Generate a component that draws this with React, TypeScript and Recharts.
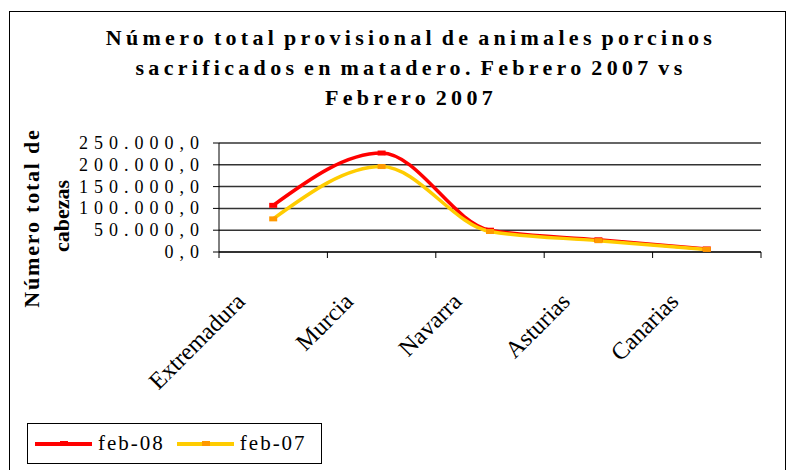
import { LineChart, Line, XAxis, YAxis, CartesianGrid } from 'recharts';

const categories = ['Extremadura', 'Murcia', 'Navarra', 'Asturias', 'Canarias'];
const feb08 = [107000, 227000, 50000, 28000, 7000];
const feb07 = [76000, 196000, 47000, 26000, 6000];
const yTicks = [0, 50000, 100000, 150000, 200000, 250000];
const seriesNames = ['feb-08', 'feb-07'];
const lineColors = ['#ff0000', '#ffcc00'];
const dotColors = ['#ff0000', '#ff9900'];

const data = categories.map((region, i) => ({ region, feb08: feb08[i], feb07: feb07[i] }));

const SERIF = '"Liberation Serif", "Times New Roman", serif';
const PLOT_W = 541;

// 250000 -> "250.000,0"
function fmt(v: number) {
  const s = String(Math.round(v)).replace(/\B(?=(\d{3})+(?!\d))/g, '.');
  return s + ',0';
}

function XTick(props: any) {
  const { x, y, payload, index } = props;
  const band = (props.width || PLOT_W) / categories.length;
  const left = x - band / 2;
  return (
    <g>
      <line x1={left} x2={left} y1={y} y2={y + 6} stroke="#000" />
      {index === categories.length - 1 && (
        <line x1={x + band / 2} x2={x + band / 2} y1={y} y2={y + 6} stroke="#000" />
      )}
      <text
        transform={`translate(${x - 27},${y + 51}) rotate(-45)`}
        textAnchor="end"
        fontFamily={SERIF}
        fontSize={24}
        fill="#000"
      >
        {payload.value}
      </text>
    </g>
  );
}

function YTick(props: any) {
  const { x, y, payload } = props;
  return (
    <text x={x + 6} y={y} dy={6} textAnchor="end" fontFamily={SERIF} fontSize={18} letterSpacing={6} fill="#000">
      {fmt(payload.value)}
    </text>
  );
}

function Marker(color: string) {
  return (props: any) => {
    const { cx, cy } = props;
    if (cx == null || cy == null) return null;
    return <rect x={cx - 4} y={cy - 2.5} width={8} height={5} fill={color} />;
  };
}

function YTitle() {
  return (
    <g fontFamily={SERIF} fontWeight="bold" fontSize={22} fill="#000" textAnchor="middle">
      <text transform="translate(39,218) rotate(-90)" letterSpacing={1.8}>Número total de</text>
      <text transform="translate(69,216) rotate(-90)">cabezas</text>
    </g>
  );
}

export default function App() {
  return (
    <div style={{ position: 'absolute', left: 0, top: 0, width: 794, height: 470, background: '#fff', overflow: 'hidden' }}>
      <div style={{ position: 'absolute', left: 9, top: 11, width: 775, height: 470, border: '1.5px solid #000' }} />
      <div
        style={{
          position: 'absolute',
          left: 14,
          top: 23,
          width: 794,
          textAlign: 'center',
          fontFamily: SERIF,
          fontWeight: 'bold',
          fontSize: 22,
          lineHeight: '30px',
          letterSpacing: 4.3,
          wordSpacing: -4,
          color: '#000',
        }}
      >
        Número total provisional de animales porcinos
        <br />
        sacrificados en matadero. Febrero 2007 vs
        <br />
        Febrero 2007
      </div>
      <div style={{ position: 'absolute', left: 0, top: 0 }}>
        <LineChart width={794} height={470} data={data} margin={{ top: 143, right: 33, bottom: 188, left: 0 }}>
          <CartesianGrid vertical={false} stroke="#333" strokeWidth={1.5} />
          <XAxis
            dataKey="region"
            scale="band"
            height={30}
            axisLine={{ stroke: '#000' }}
            tickLine={false}
            tickSize={0}
            tickMargin={0}
            interval={0}
            tick={<XTick />}
          />
          <YAxis
            width={219}
            domain={[0, 250000]}
            ticks={yTicks}
            interval={0}
            axisLine={{ stroke: '#000' }}
            tickLine={{ stroke: '#000' }}
            tickSize={6}
            tickMargin={14}
            tick={<YTick />}
            label={{ content: <YTitle /> }}
          />
          <Line
            type="monotone"
            dataKey="feb08"
            name={seriesNames[0]}
            stroke={lineColors[0]}
            strokeWidth={3.5}
            dot={Marker(dotColors[0])}
            activeDot={false}
            isAnimationActive={false}
          />
          <Line
            type="monotone"
            dataKey="feb07"
            name={seriesNames[1]}
            stroke={lineColors[1]}
            strokeWidth={3.5}
            dot={Marker(dotColors[1])}
            activeDot={false}
            isAnimationActive={false}
          />
        </LineChart>
      </div>
      <div
        style={{
          position: 'absolute',
          left: 27,
          top: 423,
          width: 295,
          height: 41,
          border: '1px solid #000',
          boxSizing: 'border-box',
          display: 'flex',
          alignItems: 'center',
          fontFamily: SERIF,
          fontSize: 21,
          letterSpacing: 2,
          color: '#000',
        }}
      >
        {seriesNames.map((n, i) => (
          <div key={n} style={{ display: 'flex', alignItems: 'center', marginLeft: i === 0 ? 7 : 12 }}>
            <div style={{ position: 'relative', width: 57, height: 4, background: lineColors[i] }}>
              <div style={{ position: 'absolute', left: 25, top: -0.5, width: 8, height: 5, background: dotColors[i] }} />
            </div>
            <span style={{ marginLeft: 6 }}>{n}</span>
          </div>
        ))}
      </div>
    </div>
  );
}
